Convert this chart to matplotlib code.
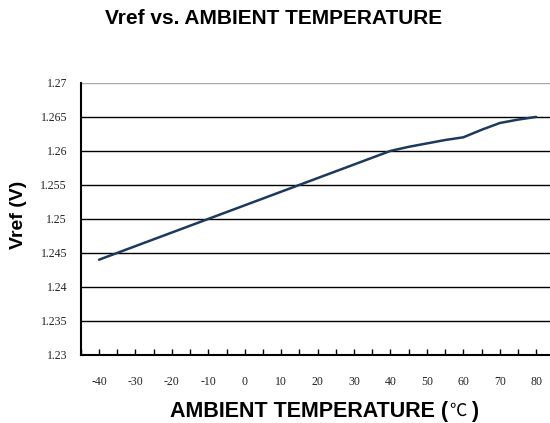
import numpy as np
import matplotlib
matplotlib.use("Agg")
import matplotlib.pyplot as plt

plt.rcParams["axes.unicode_minus"] = False

# readings taken off the reference curve
temp_c = [-40, -30, -20, -10, 0, 10, 20, 30, 40, 45, 50, 55, 60, 65, 70, 75, 80]
vref_v = [1.2440, 1.2460, 1.2480, 1.2500, 1.2520, 1.2540, 1.2560, 1.2580, 1.2600,
          1.2606, 1.2611, 1.2616, 1.2620, 1.2631, 1.2641, 1.2646, 1.2650]

x_ticks = [-40, -30, -20, -10, 0, 10, 20, 30, 40, 50, 60, 70, 80]
y_ticks = [1.23, 1.235, 1.24, 1.245, 1.25, 1.255, 1.26, 1.265, 1.27]
y_labels = ["1.23", "1.235", "1.24", "1.245", "1.25", "1.255", "1.26", "1.265", "1.27"]

fig = plt.figure(figsize=(5.5, 4.23), dpi=100)
ax = fig.add_axes([0.147, 0.161, 0.853, 0.643])

for y in y_ticks[1:-1]:
    ax.axhline(y, color="black", lw=1.0, zorder=1)
ax.axhline(y_ticks[-1], color="#aaaaaa", lw=1.0, zorder=1)

ax.plot(temp_c, vref_v, color="#1b3a5c", lw=1.8, zorder=3,
        solid_joinstyle="round", solid_capstyle="round")

ax.set_xlim(-45, 83.8)
ax.set_ylim(1.23, 1.27)
ax.set_xticks(x_ticks)
ax.set_xticks(np.arange(-45, 85, 5), minor=True)
ax.set_yticks(y_ticks)
ax.set_yticklabels(y_labels)

for s in ["top", "right"]:
    ax.spines[s].set_visible(False)
ax.spines["left"].set_linewidth(1.5)
ax.spines["bottom"].set_linewidth(1.5)

ax.tick_params(axis="x", which="both", direction="in", length=4, width=1.0,
               pad=15, labelsize=8.5)
ax.tick_params(axis="y", length=0, pad=10, labelsize=8.5)
for lab in ax.get_xticklabels() + ax.get_yticklabels():
    lab.set_fontfamily("Liberation Serif")
    lab.set_color("#222222")

fig.text(0.498, 0.956, "Vref vs. AMBIENT TEMPERATURE", ha="center", va="center",
         fontsize=15, fontweight="bold", family="Liberation Sans")

# x label in three pieces so the degree sign can be thin like the original
fig.text(0.815, 0.028, "AMBIENT TEMPERATURE (", ha="right", va="center",
         fontsize=15.5, fontweight="bold", family="Liberation Sans")
fig.text(0.816, 0.028, "℃", ha="left", va="center", fontsize=12.5,
         fontweight="light", family=["Noto Sans CJK SC", "DejaVu Sans"])
fig.text(0.857, 0.028, ")", ha="left", va="center",
         fontsize=15.5, fontweight="bold", family="Liberation Sans")

fig.text(0.033, 0.492, "Vref (V)", ha="center", va="center", rotation=90,
         fontsize=14, fontweight="bold", family="Liberation Sans")

fig.savefig("out.png", dpi=100)
